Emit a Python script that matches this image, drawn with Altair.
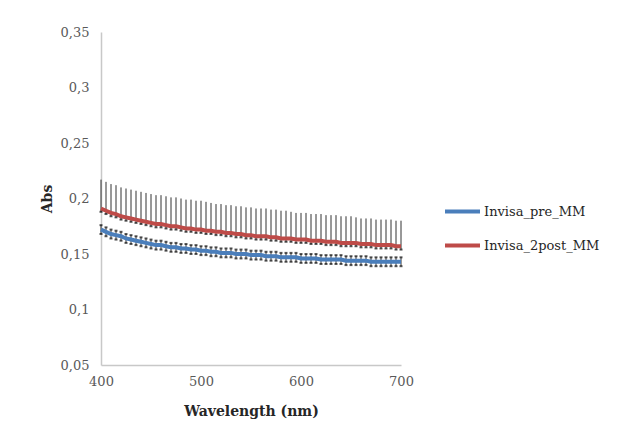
import altair as alt
import pandas as pd

wavelength = list(range(400, 701, 5))

series_names = ["Invisa_pre_MM", "Invisa_2post_MM"]
series_colors = ["#4A7EBB", "#BE4B48"]

pre_mm = [0.172, 0.170, 0.168, 0.167, 0.166, 0.164, 0.163, 0.162, 0.161, 0.160,
          0.159, 0.158, 0.158, 0.157, 0.156, 0.156, 0.155, 0.155, 0.154, 0.154,
          0.153, 0.153, 0.152, 0.152, 0.151, 0.151, 0.151, 0.150, 0.150, 0.150,
          0.149, 0.149, 0.149, 0.148, 0.148, 0.148, 0.147, 0.147, 0.147, 0.147,
          0.146, 0.146, 0.146, 0.146, 0.145, 0.145, 0.145, 0.145, 0.145, 0.144,
          0.144, 0.144, 0.144, 0.144, 0.143, 0.143, 0.143, 0.143, 0.143, 0.143,
          0.143]
pre_err = [0.004, 0.004, 0.004, 0.004, 0.004, 0.004, 0.004, 0.004, 0.004, 0.004,
           0.004, 0.004, 0.004, 0.004, 0.004, 0.004, 0.004, 0.004, 0.004, 0.004,
           0.004, 0.004, 0.004, 0.004, 0.004, 0.004, 0.004, 0.004, 0.004, 0.004,
           0.004, 0.004, 0.004, 0.004, 0.004, 0.004, 0.004, 0.004, 0.004, 0.004,
           0.004, 0.004, 0.004, 0.004, 0.004, 0.004, 0.004, 0.004, 0.004, 0.004,
           0.004, 0.004, 0.004, 0.004, 0.004, 0.004, 0.004, 0.004, 0.004, 0.004,
           0.004]

post_mm = [0.191, 0.189, 0.187, 0.186, 0.184, 0.183, 0.182, 0.181, 0.180, 0.179,
           0.178, 0.177, 0.177, 0.176, 0.175, 0.175, 0.174, 0.173, 0.173, 0.172,
           0.172, 0.171, 0.171, 0.170, 0.170, 0.169, 0.169, 0.168, 0.168, 0.167,
           0.167, 0.166, 0.166, 0.166, 0.165, 0.165, 0.164, 0.164, 0.164, 0.163,
           0.163, 0.163, 0.162, 0.162, 0.162, 0.161, 0.161, 0.161, 0.160, 0.160,
           0.160, 0.160, 0.159, 0.159, 0.159, 0.158, 0.158, 0.158, 0.158, 0.157,
           0.157]
post_err_plus = [0.026, 0.026, 0.026, 0.026, 0.026, 0.026, 0.026, 0.026, 0.026, 0.026,
                 0.026, 0.026, 0.026, 0.026, 0.026, 0.026, 0.026, 0.026, 0.026, 0.026,
                 0.026, 0.026, 0.025, 0.025, 0.025, 0.025, 0.025, 0.025, 0.025, 0.025,
                 0.025, 0.025, 0.025, 0.025, 0.025, 0.025, 0.025, 0.025, 0.024, 0.024,
                 0.024, 0.024, 0.024, 0.024, 0.024, 0.024, 0.024, 0.024, 0.024, 0.024,
                 0.024, 0.023, 0.023, 0.023, 0.023, 0.023, 0.023, 0.023, 0.023, 0.023,
                 0.023]
post_err_minus = [0.003] * 61

y_ticks = [0.05, 0.1, 0.15, 0.2, 0.25, 0.3, 0.35]
x_ticks = [400, 500, 600, 700]

rows = []
for i, w in enumerate(wavelength):
    rows.append({"wavelength": w, "series": series_names[0], "value": pre_mm[i],
                 "lo": pre_mm[i] - pre_err[i], "hi": pre_mm[i] + pre_err[i], "order": 0})
    rows.append({"wavelength": w, "series": series_names[1], "value": post_mm[i],
                 "lo": post_mm[i] - post_err_minus[i], "hi": post_mm[i] + post_err_plus[i], "order": 1})
df = pd.DataFrame(rows)

font = "DejaVu Serif"

x_enc = alt.X("wavelength:Q",
              scale=alt.Scale(domain=[400, 700], nice=False),
              axis=alt.Axis(values=x_ticks, title="Wavelength (nm)", grid=False, ticks=False,
                            domainColor="#C8C8C8", domainWidth=1.5, labelColor="#595959",
                            labelFont=font, labelFontSize=13, labelPadding=10, labelFlush=False,
                            titleFont=font, titleFontSize=14, titleFontWeight="bold",
                            titleColor="#262626", titlePadding=16, format="d"))
y_scale = alt.Scale(domain=[0.05, 0.35], nice=False, zero=False)
y_axis = alt.Axis(values=y_ticks, title="Abs", grid=False, ticks=False,
                  domainColor="#C8C8C8", domainWidth=1.5, labelColor="#595959",
                  labelFont=font, labelFontSize=13, labelPadding=12, labelFlush=False,
                  labelExpr="replace(format(datum.value, '.2~f'), '.', ',')",
                  titleFont=font, titleFontSize=14, titleFontWeight="bold",
                  titleColor="#262626", titlePadding=6)

base = alt.Chart(df)

bars = base.mark_rule(color="#333333", strokeWidth=1).encode(
    x=x_enc,
    y=alt.Y("lo:Q", scale=y_scale, axis=y_axis),
    y2="hi:Q",
)

lines = base.mark_line(strokeWidth=4).encode(
    x="wavelength:Q",
    y=alt.Y("value:Q", scale=y_scale),
    color=alt.Color("series:N",
                    scale=alt.Scale(domain=series_names, range=series_colors),
                    sort=series_names,
                    legend=alt.Legend(title=None, orient="none", legendX=342, legendY=160,
                                      symbolType="stroke", symbolSize=1225, symbolStrokeWidth=4,
                                      labelFont=font, labelFontSize=13, labelColor="#262626",
                                      labelOffset=2, rowPadding=6, padding=0, labelLimit=200)),
    detail="series:N",
)

caps_lo = base.mark_tick(color="#111111", size=3, thickness=2, orient="horizontal").encode(
    x="wavelength:Q",
    y=alt.Y("lo:Q", scale=y_scale),
)
caps_hi = base.transform_filter(alt.datum.order == 0).mark_tick(
    color="#111111", size=3, thickness=2, orient="horizontal").encode(
    x="wavelength:Q",
    y=alt.Y("hi:Q", scale=y_scale),
)

chart = alt.layer(bars, lines, caps_lo, caps_hi).properties(
    width=300, height=333,
    autosize=alt.AutoSizeParams(type="none"),
    padding={"left": 101, "top": 32, "right": 223, "bottom": 56},
    background="white",
).configure_view(stroke=None)

chart.save("out.html", embed_options={"renderer": "svg", "actions": False})
